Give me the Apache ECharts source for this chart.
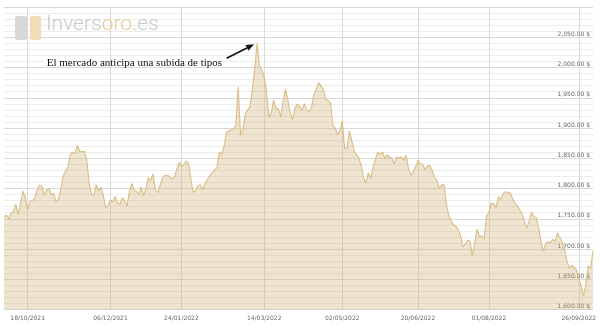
<!DOCTYPE html>
<html>
<head>
<meta charset="utf-8">
<script src="https://cdn.jsdelivr.net/npm/echarts@6/dist/echarts.min.js"></script>
<style>
html,body{margin:0;padding:0;background:#fff;}
#c{width:600px;height:330px;}
</style>
</head>
<body>
<div id="c"></div>
<script>
// Trading days (LBMA, London) from 04/10/2021 to 04/10/2022
const startDate = '2021-10-04';
const endDate = '2022-10-04';
const holidays = ['2021-12-24','2021-12-27','2021-12-28','2021-12-31','2022-01-03','2022-04-15','2022-04-18','2022-05-02','2022-06-02','2022-06-03','2022-08-29','2022-09-19'];

// Gold price, USD/oz
const prices = [
1753,1756,1750,1759,1762,1774,1757,1775,1796,1785,
1765,1779,1780,1784,1797,1806,1804,1789,1797,1800,
1790,1792,1778,1782,1798,1820,1829,1835,1856,1860,
1858,1871,1862,1861,1861,1847,1808,1790,1789,1806,
1796,1802,1788,1768,1772,1781,1778,1787,1776,1774,
1785,1780,1771,1795,1808,1797,1795,1790,1803,1788,
1800,1818,1813,1824,1797,1793,1805,1817,1822,1822,
1820,1816,1818,1831,1843,1837,1839,1845,1842,1815,
1793,1797,1805,1806,1798,1808,1815,1821,1826,1831,
1834,1860,1856,1869,1892,1895,1897,1897,1905,1968,
1888,1897,1923,1930,1935,1965,1997,2040,2002,1996,
1985,1960,1918,1925,1946,1932,1932,1918,1945,1964,
1946,1925,1914,1932,1940,1935,1930,1940,1930,1927,
1934,1956,1964,1975,1970,1963,1948,1945,1942,1905,
1900,1889,1895,1912,1866,1866,1895,1880,1862,1856,
1851,1838,1818,1809,1826,1817,1834,1848,1860,1856,
1860,1850,1856,1852,1850,1840,1852,1850,1852,1847,
1855,1833,1822,1828,1836,1847,1841,1840,1831,1837,
1838,1830,1818,1814,1800,1806,1806,1775,1755,1747,
1740,1738,1732,1722,1703,1708,1715,1713,1688,1712,
1733,1720,1722,1716,1755,1760,1776,1775,1768,1786,
1782,1791,1795,1793,1793,1783,1776,1771,1765,1758,
1745,1734,1746,1761,1753,1752,1735,1712,1696,1709,
1712,1710,1716,1713,1726,1719,1711,1700,1680,1668,
1673,1670,1665,1652,1639,1622,1642,1672,1668,1697
];

const tickDates = ['2021-10-18','2021-12-06','2022-01-24','2022-03-14','2022-05-02','2022-06-20','2022-08-01','2022-09-26'];
const tickLabels = ['18/10/2021','06/12/2021','24/01/2022','14/03/2022','02/05/2022','20/06/2022','01/08/2022','26/09/2022'];

const annotationText = 'El mercado anticipa una subida de tipos';

function fmt(d){
  const m = String(d.getUTCMonth()+1).padStart(2,'0');
  const dd = String(d.getUTCDate()).padStart(2,'0');
  return d.getUTCFullYear()+'-'+m+'-'+dd;
}
const categories = [];
for (let d = new Date(startDate+'T00:00:00Z'); fmt(d) <= endDate; d.setUTCDate(d.getUTCDate()+1)) {
  const wd = d.getUTCDay();
  const s = fmt(d);
  if (wd === 0 || wd === 6) continue;
  if (holidays.indexOf(s) >= 0) continue;
  categories.push(s);
}
const tickIndex = tickDates.map(t => categories.findIndex(c => c >= t));
const isTick = (i) => tickIndex.indexOf(i) >= 0;

const chart = echarts.init(document.getElementById('c'), null, {renderer:'canvas'});
const axisFont = 'DejaVu Sans, Verdana, sans-serif';
chart.setOption({
  animation: false,
  backgroundColor: '#ffffff',
  grid: {left: 4, right: 7, top: 7, bottom: 20.5, containLabel: false},
  xAxis: {
    type: 'category',
    data: categories,
    boundaryGap: false,
    axisLine: {show: false},
    axisTick: {show: false},
    axisLabel: {
      interval: (i) => isTick(i),
      formatter: (v, i) => tickLabels[tickIndex.indexOf(i)] || '',
      fontFamily: axisFont, fontSize: 6, color: '#666', margin: 6
    },
    splitLine: {show: true, interval: (i) => isTick(i), lineStyle: {color: '#dadada', width: 1}}
  },
  yAxis: {
    type: 'value',
    position: 'right',
    min: 1600, max: 2100, interval: 50,
    axisLine: {show: false},
    axisTick: {show: false},
    axisLabel: {
      inside: true, showMaxLabel: false,
      verticalAlign: 'bottom', margin: 3,
      fontFamily: axisFont, fontSize: 6, color: '#666',
      formatter: (v) => v.toLocaleString('en-US', {minimumFractionDigits: 2, maximumFractionDigits: 2}) + ' $'
    },
    splitLine: {show: true, lineStyle: {color: '#d8d8d8', width: 1}},
    minorTick: {show: false, splitNumber: 5},
    minorSplitLine: {show: true, lineStyle: {color: '#ececec', width: 1}}
  },
  series: [{
    type: 'line',
    data: prices,
    showSymbol: false,
    symbol: 'none',
    lineStyle: {color: '#dbbd84', width: 1.1},
    areaStyle: {color: 'rgba(208,174,112,0.48)'},
    z: 2
  }]
});

// annotation arrow anchored to the peak point
const peakIdx = prices.indexOf(Math.max.apply(null, prices));
const p = chart.convertToPixel({seriesIndex: 0}, [peakIdx, prices[peakIdx]]);
const tip = [p[0] - 3, p[1] + 1];
const tail = [p[0] - 30.5, p[1] + 15];
const ang = Math.atan2(tip[1] - tail[1], tip[0] - tail[0]);
const hl = 8, hw = 3.2;
const base = [tip[0] - hl*Math.cos(ang), tip[1] - hl*Math.sin(ang)];
const head = [
  tip,
  [base[0] + hw*Math.sin(ang), base[1] - hw*Math.cos(ang)],
  [base[0] - hw*Math.sin(ang), base[1] + hw*Math.cos(ang)]
];

chart.setOption({
  graphic: [
    {type: 'rect', left: 15, top: 16, shape: {width: 12, height: 24, r: 2}, style: {fill: '#d8d8d8'}, z: 0},
    {type: 'rect', left: 30, top: 16, shape: {width: 11, height: 24, r: 2}, style: {fill: '#f0dcb6'}, z: 0},
    {type: 'text', left: 46, top: 14, z: 0, style: {
      text: '{g|Invers}{o|oro}{g|.es}',
      rich: {
        g: {fill: '#c9c9c9', fontFamily: 'Roboto', fontWeight: 300, fontSize: 21},
        o: {fill: '#e8cd9b', fontFamily: 'Roboto', fontWeight: 300, fontSize: 21}
      }
    }},
    {type: 'line', z: 10, shape: {x1: tail[0], y1: tail[1], x2: base[0], y2: base[1]}, style: {stroke: '#111', lineWidth: 1.6}},
    {type: 'polygon', z: 10, shape: {points: head}, style: {fill: '#111'}},
    {type: 'text', z: 10, x: tail[0] - 4.5, y: tail[1] + 5, style: {
      text: annotationText, fill: '#111', align: 'right', verticalAlign: 'middle',
      fontFamily: 'Liberation Serif, Times New Roman, serif', fontSize: 11
    }}
  ]
});
</script>
</body>
</html>
